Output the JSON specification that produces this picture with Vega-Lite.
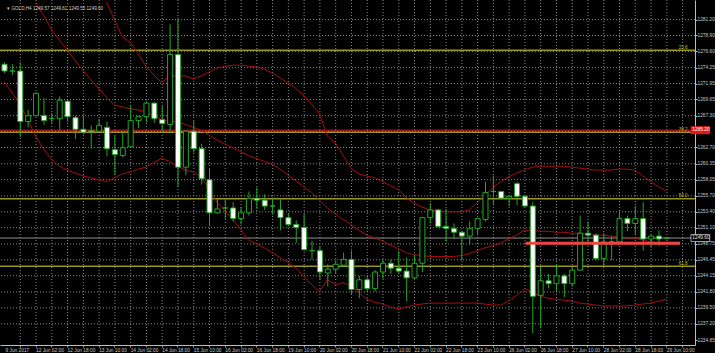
{
"$schema": "https://vega.github.io/schema/vega-lite/v6.json",
"width": 695, "height": 345,
"autosize": {"type": "none"},
"padding": {"left": 0, "top": 0, "right": 20, "bottom": 8},
"background": "#000000",
"config": {
"view": {"stroke": null},
"font": "Liberation Sans",
"axis": {"title": null, "labelFontSize": 4.8, "labelColor": "#c8c8c8", "labelPadding": 1, "labelOverlap": false, "labelBound": false, "labelFlush": false}
},
"resolve": {"axis": {"x": "independent", "y": "independent"}},
"datasets": {
"candles": [
{"i":0,"o":1274.74,"h":1275.02,"l":1273.48,"c":1273.76,"up":null,"mid":null,"lo":1272.21},
{"i":1,"o":1273.76,"h":1274.74,"l":1273.19,"c":1273.76,"up":null,"mid":null,"lo":1270.67},
{"i":2,"o":1273.76,"h":1275.02,"l":1264.21,"c":1266.45,"up":null,"mid":null,"lo":1268.98},
{"i":3,"o":1266.45,"h":1268.14,"l":1265.61,"c":1267.30,"up":null,"mid":null,"lo":1266.73},
{"i":4,"o":1267.30,"h":1270.67,"l":1267.25,"c":1270.53,"up":null,"mid":1283.59,"lo":1264.35},
{"i":5,"o":1267.30,"h":1269.82,"l":1266.03,"c":1266.59,"up":null,"mid":1281.90,"lo":1262.52},
{"i":6,"o":1266.87,"h":1267.72,"l":1266.17,"c":1266.90,"up":null,"mid":1279.80,"lo":1260.98},
{"i":7,"o":1266.87,"h":1270.10,"l":1265.19,"c":1269.54,"up":null,"mid":1278.25,"lo":1259.99},
{"i":8,"o":1269.40,"h":1269.54,"l":1266.45,"c":1267.16,"up":null,"mid":1276.85,"lo":1259.43},
{"i":9,"o":1267.01,"h":1267.30,"l":1263.92,"c":1265.33,"up":null,"mid":1275.30,"lo":1259.01},
{"i":10,"o":1265.33,"h":1267.30,"l":1264.63,"c":1264.91,"up":null,"mid":1273.90,"lo":1258.59},
{"i":11,"o":1265.10,"h":1265.89,"l":1262.52,"c":1264.95,"up":null,"mid":1272.49,"lo":1258.31},
{"i":12,"o":1265.05,"h":1266.87,"l":1265.00,"c":1265.89,"up":null,"mid":1271.23,"lo":1258.03},
{"i":13,"o":1265.61,"h":1266.45,"l":1261.40,"c":1262.52,"up":1283.73,"mid":1269.96,"lo":1257.75},
{"i":14,"o":1262.38,"h":1264.35,"l":1258.73,"c":1261.68,"up":1281.20,"mid":1268.84,"lo":1258.31},
{"i":15,"o":1261.54,"h":1265.05,"l":1261.26,"c":1262.66,"up":1278.67,"mid":1268.56,"lo":1258.87},
{"i":16,"o":1262.80,"h":1268.70,"l":1262.66,"c":1266.59,"up":1277.97,"mid":1268.28,"lo":1259.15},
{"i":17,"o":1266.59,"h":1267.20,"l":1265.47,"c":1267.16,"up":1276.28,"mid":1268.14,"lo":1259.57},
{"i":18,"o":1267.16,"h":1269.40,"l":1266.31,"c":1269.12,"up":1274.46,"mid":1267.86,"lo":1259.85},
{"i":19,"o":1269.12,"h":1269.20,"l":1266.31,"c":1266.87,"up":1273.19,"mid":1267.30,"lo":1260.55},
{"i":20,"o":1266.73,"h":1268.70,"l":1265.05,"c":1266.17,"up":1272.07,"mid":1266.73,"lo":1261.12},
{"i":21,"o":1266.03,"h":1280.50,"l":1265.05,"c":1276.14,"up":1273.05,"mid":1266.45,"lo":1260.70},
{"i":22,"o":1276.14,"h":1281.34,"l":1257.04,"c":1259.85,"up":1273.05,"mid":1266.45,"lo":1259.99},
{"i":23,"o":1259.85,"h":1265.10,"l":1258.73,"c":1265.05,"up":1273.05,"mid":1266.03,"lo":1259.43},
{"i":24,"o":1265.05,"h":1266.59,"l":1261.96,"c":1262.52,"up":1272.63,"mid":1265.61,"lo":1259.15},
{"i":25,"o":1262.52,"h":1263.22,"l":1257.32,"c":1258.17,"up":1273.05,"mid":1265.19,"lo":1258.45},
{"i":26,"o":1258.03,"h":1259.71,"l":1251.28,"c":1253.25,"up":1273.62,"mid":1264.49,"lo":1256.62},
{"i":27,"o":1253.25,"h":1255.22,"l":1253.11,"c":1253.81,"up":1274.18,"mid":1263.78,"lo":1254.80},
{"i":28,"o":1253.95,"h":1255.22,"l":1252.41,"c":1253.95,"up":1274.46,"mid":1263.22,"lo":1253.53},
{"i":29,"o":1253.95,"h":1254.80,"l":1251.99,"c":1252.41,"up":1274.60,"mid":1262.66,"lo":1252.27},
{"i":30,"o":1252.41,"h":1254.09,"l":1251.57,"c":1253.25,"up":1274.60,"mid":1262.10,"lo":1250.86},
{"i":31,"o":1253.25,"h":1256.34,"l":1252.83,"c":1255.36,"up":1274.46,"mid":1261.54,"lo":1249.32},
{"i":32,"o":1255.36,"h":1256.90,"l":1253.81,"c":1255.08,"up":1274.32,"mid":1261.12,"lo":1248.76},
{"i":33,"o":1255.08,"h":1255.92,"l":1253.67,"c":1254.23,"up":1274.04,"mid":1260.70,"lo":1248.19},
{"i":34,"o":1254.23,"h":1255.50,"l":1252.97,"c":1254.23,"up":1273.48,"mid":1260.27,"lo":1247.49},
{"i":35,"o":1253.67,"h":1255.22,"l":1250.72,"c":1252.55,"up":1272.77,"mid":1259.57,"lo":1246.79},
{"i":36,"o":1252.55,"h":1253.11,"l":1251.28,"c":1251.57,"up":1272.07,"mid":1258.73,"lo":1246.09},
{"i":37,"o":1251.57,"h":1252.13,"l":1248.90,"c":1251.14,"up":1271.23,"mid":1257.89,"lo":1245.24},
{"i":38,"o":1251.14,"h":1253.11,"l":1247.77,"c":1247.91,"up":1270.25,"mid":1257.04,"lo":1244.12},
{"i":39,"o":1247.77,"h":1249.18,"l":1246.51,"c":1247.77,"up":1268.98,"mid":1256.20,"lo":1242.86},
{"i":40,"o":1247.77,"h":1248.48,"l":1243.56,"c":1244.68,"up":1267.58,"mid":1255.08,"lo":1241.87},
{"i":41,"o":1244.54,"h":1245.81,"l":1242.58,"c":1245.10,"up":1264.35,"mid":1253.95,"lo":1243.56},
{"i":42,"o":1245.10,"h":1246.37,"l":1244.40,"c":1245.81,"up":1263.36,"mid":1253.11,"lo":1242.86},
{"i":43,"o":1245.67,"h":1247.49,"l":1245.60,"c":1246.51,"up":1261.54,"mid":1252.27,"lo":1243.14},
{"i":44,"o":1246.51,"h":1247.77,"l":1241.45,"c":1242.16,"up":1259.71,"mid":1251.57,"lo":1242.72},
{"i":45,"o":1242.16,"h":1244.12,"l":1240.89,"c":1243.56,"up":1258.87,"mid":1250.72,"lo":1241.73},
{"i":46,"o":1243.56,"h":1244.12,"l":1241.87,"c":1242.30,"up":1258.59,"mid":1250.02,"lo":1240.75},
{"i":47,"o":1242.30,"h":1244.96,"l":1241.87,"c":1244.68,"up":1258.31,"mid":1249.60,"lo":1240.33},
{"i":48,"o":1244.68,"h":1246.51,"l":1243.70,"c":1245.95,"up":1257.75,"mid":1249.18,"lo":1240.05},
{"i":49,"o":1245.95,"h":1246.51,"l":1244.40,"c":1245.24,"up":1257.18,"mid":1248.62,"lo":1239.63},
{"i":50,"o":1245.24,"h":1247.77,"l":1244.40,"c":1244.82,"up":1256.62,"mid":1248.05,"lo":1239.35},
{"i":51,"o":1244.82,"h":1246.79,"l":1240.47,"c":1243.84,"up":1255.50,"mid":1247.49,"lo":1239.63},
{"i":52,"o":1243.84,"h":1247.21,"l":1243.56,"c":1245.95,"up":1254.65,"mid":1247.21,"lo":1239.91},
{"i":53,"o":1245.95,"h":1252.60,"l":1244.68,"c":1252.55,"up":1254.09,"mid":1247.07,"lo":1240.05},
{"i":54,"o":1252.55,"h":1254.66,"l":1251.71,"c":1253.67,"up":1253.67,"mid":1246.93,"lo":1240.19},
{"i":55,"o":1253.67,"h":1253.70,"l":1251.14,"c":1251.28,"up":1253.53,"mid":1246.93,"lo":1240.19},
{"i":56,"o":1251.28,"h":1253.81,"l":1249.04,"c":1251.00,"up":1253.39,"mid":1246.93,"lo":1240.19},
{"i":57,"o":1251.00,"h":1251.71,"l":1249.46,"c":1250.44,"up":1253.39,"mid":1246.93,"lo":1240.19},
{"i":58,"o":1250.44,"h":1250.50,"l":1246.37,"c":1249.88,"up":1253.39,"mid":1247.07,"lo":1240.19},
{"i":59,"o":1249.88,"h":1251.99,"l":1248.62,"c":1251.00,"up":1253.67,"mid":1247.35,"lo":1240.19},
{"i":60,"o":1251.00,"h":1252.45,"l":1250.02,"c":1252.41,"up":1254.65,"mid":1247.77,"lo":1240.19},
{"i":61,"o":1252.27,"h":1257.75,"l":1251.99,"c":1256.20,"up":1255.78,"mid":1248.19,"lo":1240.05},
{"i":62,"o":1256.34,"h":1258.59,"l":1254.51,"c":1256.34,"up":1256.90,"mid":1248.48,"lo":1239.91},
{"i":63,"o":1256.34,"h":1256.40,"l":1255.22,"c":1255.36,"up":1257.75,"mid":1248.90,"lo":1239.91},
{"i":64,"o":1255.36,"h":1255.70,"l":1254.23,"c":1255.64,"up":1258.45,"mid":1249.46,"lo":1240.47},
{"i":65,"o":1257.46,"h":1257.75,"l":1254.37,"c":1255.64,"up":1259.01,"mid":1250.02,"lo":1241.31},
{"i":66,"o":1255.64,"h":1255.70,"l":1254.20,"c":1254.23,"up":1259.43,"mid":1250.72,"lo":1242.30},
{"i":67,"o":1254.23,"h":1254.80,"l":1235.83,"c":1241.17,"up":1259.85,"mid":1250.72,"lo":1241.73},
{"i":68,"o":1241.31,"h":1245.39,"l":1236.54,"c":1243.42,"up":1259.99,"mid":1250.58,"lo":1241.17},
{"i":69,"o":1243.42,"h":1244.40,"l":1242.30,"c":1243.00,"up":1259.99,"mid":1250.58,"lo":1240.89},
{"i":70,"o":1243.00,"h":1245.81,"l":1241.87,"c":1244.12,"up":1259.99,"mid":1250.44,"lo":1240.75},
{"i":71,"o":1244.12,"h":1244.40,"l":1241.03,"c":1243.00,"up":1259.99,"mid":1250.44,"lo":1240.61},
{"i":72,"o":1243.00,"h":1245.39,"l":1242.58,"c":1244.96,"up":1259.85,"mid":1250.30,"lo":1240.47},
{"i":73,"o":1244.96,"h":1252.83,"l":1244.90,"c":1250.30,"up":1259.71,"mid":1250.30,"lo":1240.19},
{"i":74,"o":1250.30,"h":1251.99,"l":1248.90,"c":1250.02,"up":1259.57,"mid":1250.16,"lo":1240.05},
{"i":75,"o":1250.02,"h":1250.30,"l":1246.37,"c":1246.65,"up":1259.43,"mid":1250.02,"lo":1239.91},
{"i":76,"o":1246.65,"h":1250.30,"l":1245.39,"c":1249.04,"up":1259.43,"mid":1250.02,"lo":1239.77},
{"i":77,"o":1249.04,"h":1249.88,"l":1246.37,"c":1249.04,"up":1259.43,"mid":1249.88,"lo":1239.77},
{"i":78,"o":1249.04,"h":1253.39,"l":1248.90,"c":1252.41,"up":1259.57,"mid":1249.74,"lo":1239.77},
{"i":79,"o":1252.41,"h":1252.83,"l":1250.58,"c":1251.71,"up":1259.57,"mid":1249.60,"lo":1239.77},
{"i":80,"o":1251.71,"h":1254.23,"l":1250.02,"c":1252.41,"up":1259.43,"mid":1249.60,"lo":1239.91},
{"i":81,"o":1252.41,"h":1254.80,"l":1247.77,"c":1249.46,"up":1258.59,"mid":1249.32,"lo":1240.05},
{"i":82,"o":1249.46,"h":1250.02,"l":1248.19,"c":1249.88,"up":1257.75,"mid":1249.04,"lo":1240.19},
{"i":83,"o":1249.88,"h":1250.72,"l":1248.48,"c":1249.46,"up":1257.04,"mid":1248.90,"lo":1240.47},
{"i":84,"o":1249.57,"h":1249.61,"l":1249.55,"c":1249.60,"up":1256.34,"mid":1248.62,"lo":1240.75}
],
"gx": [{"i":2},{"i":4},{"i":6},{"i":8},{"i":10},{"i":12},{"i":14},{"i":16},{"i":18},{"i":20},{"i":22},{"i":24},{"i":26},{"i":28},{"i":30},{"i":32},{"i":34},{"i":36},{"i":38},{"i":40},{"i":42},{"i":44},{"i":46},{"i":48},{"i":50},{"i":52},{"i":54},{"i":56},{"i":58},{"i":60},{"i":62},{"i":64},{"i":66},{"i":68},{"i":70},{"i":72},{"i":74},{"i":76},{"i":78},{"i":80},{"i":82},{"i":84},{"i":86}],
"gy": [{"p":1281.20},{"p":1278.90},{"p":1276.60},{"p":1274.25},{"p":1271.95},{"p":1269.65},{"p":1267.30},{"p":1265.00},{"p":1262.70},{"p":1260.35},{"p":1258.05},{"p":1255.70},{"p":1253.40},{"p":1251.10},{"p":1248.75},{"p":1246.45},{"p":1244.15},{"p":1241.80},{"p":1239.50},{"p":1237.20}],
"fib": [
{"label":"23.6","price":1276.76},
{"label":"38.2","price":1264.91},
{"label":"50.0","price":1255.27},
{"label":"61.8","price":1245.53}
],
"redline": [{"price":1265.20,"label":"1265.20"}],
"bid": [{"price":1249.60,"label":"1249.60"}],
"trend": [{"price":1248.86,"from":66.125,"to":85.75}],
"header": [{"t":"▾ GOLD,H4  1249.57 1249.61 1249.55 1249.60"}]
},
"layer": [
{
"data": {"name": "gx"},
"mark": {"type": "rule", "color": "#8a8a8a", "strokeWidth": 1, "strokeDash": [1, 2], "xOffset": 0.5},
"encoding": {
"x": {"field": "i", "type": "quantitative", "title": null,
"scale": {"type": "linear", "domain": [0.125, 87], "nice": false, "zero": false},
"axis": {"orient": "bottom", "title": null,
"values": [2,4,6,8,10,12,14,16,18,20,22,24,26,28,30,32,34,36,38,40,42,44,46,48,50,52,54,56,58,60,62,64,66,68,70,72,74,76,78,80,82,84,86],
"labels": false, "grid": false,
"domain": true, "domainColor": "#bdbdbd", "ticks": true, "tickSize": 2, "tickColor": "#9a9a9a"}}
}
},
{
"data": {"name": "gy"},
"mark": {"type": "rule", "color": "#8a8a8a", "strokeWidth": 1, "strokeDash": [1, 2]},
"encoding": {
"y": {"field": "p", "type": "quantitative", "title": null,
"scale": {"domain": [1234.85, 1283.31], "nice": false, "zero": false},
"axis": {"orient": "right", "title": null,
"values": [1281.20,1278.90,1276.60,1274.25,1271.95,1269.65,1267.30,1265.00,1262.70,1260.35,1258.05,1255.70,1253.40,1251.10,1248.75,1246.45,1244.15,1241.80,1239.50,1237.20,1234.85],
"format": ".2f", "labelExpr": "datum.value == 1265 ? '' : datum.label",
"grid": false,
"domain": true, "domainColor": "#bdbdbd", "ticks": true, "tickSize": 2, "tickColor": "#bdbdbd",
"labelFontSize": 4.8, "labelColor": "#c8c8c8", "labelPadding": 0, "labelBaseline": "middle", "labelAlign": "left",
"labelOverlap": false, "labelBound": false, "labelFlush": false}}
}
},
{
"data": {"name": "fib"},
"mark": {"type": "rule", "color": "#9a9420", "strokeWidth": 1.5},
"encoding": {"y": {"field": "price", "type": "quantitative", "axis": null}}
},
{
"data": {"name": "fib"},
"mark": {"type": "text", "color": "#c8bf2a", "fontSize": 4.6, "align": "right", "baseline": "bottom", "dy": -0.5},
"encoding": {
"x": {"datum": 86.7, "type": "quantitative", "axis": null},
"y": {"field": "price", "type": "quantitative", "axis": null},
"text": {"field": "label"}
}
},
{
"data": {"name": "redline"},
"mark": {"type": "rule", "color": "#d42020", "strokeWidth": 1},
"encoding": {"y": {"field": "price", "type": "quantitative", "axis": null}}
},
{
"data": {"name": "bid"},
"mark": {"type": "rule", "color": "#909090", "strokeWidth": 1},
"encoding": {"y": {"field": "price", "type": "quantitative", "axis": null}}
},
{
"data": {"name": "candles"},
"mark": {"type": "line", "color": "#a80e0e", "strokeWidth": 1, "clip": true},
"encoding": {
"x": {"field": "i", "type": "quantitative", "axis": null},
"y": {"field": "up", "type": "quantitative", "axis": null}
}
},
{
"data": {"name": "candles"},
"mark": {"type": "line", "color": "#a80e0e", "strokeWidth": 1, "clip": true},
"encoding": {
"x": {"field": "i", "type": "quantitative", "axis": null},
"y": {"field": "mid", "type": "quantitative", "axis": null}
}
},
{
"data": {"name": "candles"},
"mark": {"type": "line", "color": "#a80e0e", "strokeWidth": 1, "clip": true},
"encoding": {
"x": {"field": "i", "type": "quantitative", "axis": null},
"y": {"field": "lo", "type": "quantitative", "axis": null}
}
},
{
"data": {"name": "candles"},
"mark": {"type": "rule", "color": "#22a822", "strokeWidth": 1, "clip": true, "xOffset": 0.5},
"encoding": {
"x": {"field": "i", "type": "quantitative", "axis": null},
"y": {"field": "l", "type": "quantitative", "axis": null},
"y2": {"field": "h"}
}
},
{
"data": {"name": "candles"},
"mark": {"type": "bar", "orient": "vertical", "size": 5, "stroke": "#22a822", "strokeWidth": 1, "clip": true, "xOffset": 0.5},
"encoding": {
"x": {"field": "i", "type": "quantitative", "title": null,
"axis": {"orient": "bottom", "title": null,
"values": [0.125,4,8,12,16,20,24,28,32,36,40,44,48,52,56,60,64,68,72,76,80,84],
"labelExpr": "datum.value < 1 ? '9 Jun 2017' : ['','12 Jun 02:00','12 Jun 18:00','13 Jun 10:00','14 Jun 02:00','14 Jun 18:00','15 Jun 10:00','16 Jun 02:00','16 Jun 18:00','19 Jun 10:00','20 Jun 02:00','20 Jun 18:00','21 Jun 10:00','22 Jun 02:00','22 Jun 18:00','23 Jun 10:00','26 Jun 02:00','26 Jun 18:00','27 Jun 10:00','28 Jun 02:00','28 Jun 18:00','29 Jun 10:00'][round(datum.value/4)]",
"grid": false, "domain": false, "ticks": false,
"labelAlign": "left", "labelBaseline": "top", "labelPadding": 2, "labelFontSize": 4.8, "labelColor": "#c8c8c8",
"labelOverlap": false, "labelBound": false, "labelFlush": false}},
"y": {"field": "o", "type": "quantitative", "title": null, "axis": null},
"y2": {"field": "c"},
"fill": {"condition": {"test": "datum.c < datum.o", "value": "#ffffff"}, "value": "#000000"}
}
},
{
"data": {"name": "trend"},
"mark": {"type": "rule", "color": "#f04444", "strokeWidth": 3},
"encoding": {
"x": {"field": "from", "type": "quantitative", "axis": null},
"x2": {"field": "to"},
"y": {"field": "price", "type": "quantitative", "axis": null}
}
},
{
"data": {"name": "redline"},
"mark": {"type": "bar", "orient": "horizontal", "size": 8, "fill": "#e01818", "clip": false},
"encoding": {
"x": {"datum": 87.08, "type": "quantitative", "axis": null},
"x2": {"datum": 89.55},
"y": {"field": "price", "type": "quantitative", "axis": null}
}
},
{
"data": {"name": "redline"},
"mark": {"type": "text", "color": "#ffffff", "fontSize": 4.8, "align": "left", "baseline": "middle", "clip": false},
"encoding": {
"x": {"datum": 87.3, "type": "quantitative", "axis": null},
"y": {"field": "price", "type": "quantitative", "axis": null},
"text": {"field": "label"}
}
},
{
"data": {"name": "bid"},
"mark": {"type": "bar", "orient": "horizontal", "size": 7, "fill": "#000000", "stroke": "#c8c8c8", "strokeWidth": 0.8, "clip": false},
"encoding": {
"x": {"datum": 87.12, "type": "quantitative", "axis": null},
"x2": {"datum": 89.5},
"y": {"field": "price", "type": "quantitative", "axis": null}
}
},
{
"data": {"name": "bid"},
"mark": {"type": "text", "color": "#e0e0e0", "fontSize": 4.8, "align": "left", "baseline": "middle", "clip": false},
"encoding": {
"x": {"datum": 87.3, "type": "quantitative", "axis": null},
"y": {"field": "price", "type": "quantitative", "axis": null},
"text": {"field": "label"}
}
},
{
"data": {"name": "header"},
"mark": {"type": "text", "color": "#d0d0d0", "fontSize": 4.6, "align": "left", "baseline": "middle"},
"encoding": {
"x": {"datum": 0.4, "type": "quantitative", "axis": null},
"y": {"datum": 1282.75, "type": "quantitative", "axis": null},
"text": {"field": "t"}
}
}
]
}
